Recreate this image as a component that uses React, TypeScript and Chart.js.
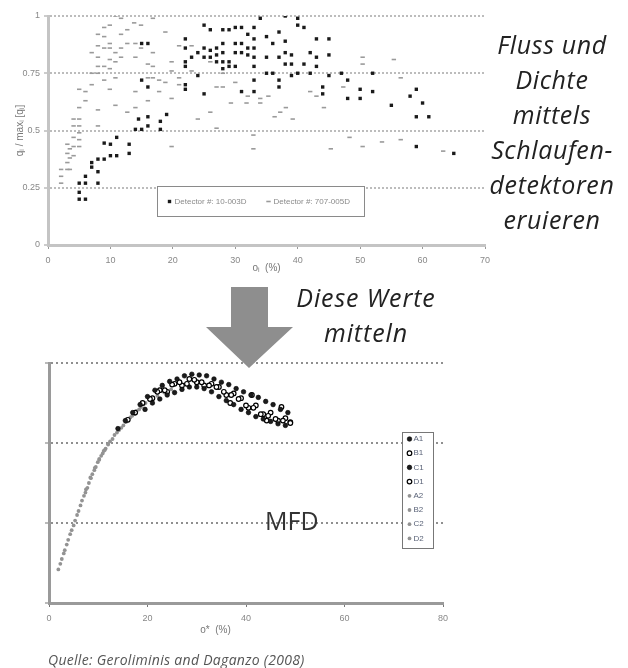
import React, { useEffect, useRef } from "react";
import { Chart, registerables } from "chart.js";

Chart.register(...registerables);

// ---------- Top chart: flow / density per loop detector ----------
const topSeriesLabels = ["Detector #: 10-003D", "Detector #: 707-005D"];
const topYTickLabels = ["0", "0.25", "0.5", "0.75", "1"];

const detector10: [number, number][] = [
  [5, 0.2], [6, 0.2], [5, 0.23], [5, 0.27], [6, 0.27], [6, 0.3], [7, 0.34], [7, 0.36],
  [8, 0.27], [8, 0.32], [8, 0.375], [9, 0.375], [9, 0.445], [10, 0.44], [10, 0.39],
  [11, 0.47], [11, 0.39], [13, 0.44], [13, 0.4], [14, 0.505], [15, 0.505], [16, 0.52],
  [16, 0.56], [18, 0.505], [18, 0.54], [19, 0.57], [14.5, 0.55], [15, 0.88], [16, 0.88],
  [15, 0.72], [16, 0.69], [22, 0.9], [22, 0.86], [22, 0.8], [22, 0.78], [22, 0.7],
  [22, 0.68], [23, 0.82], [24, 0.84], [24, 0.74], [25, 0.96], [26, 0.94], [25, 0.86],
  [25, 0.82], [25, 0.66], [26, 0.85], [26, 0.82], [27, 0.86], [27, 0.83], [27, 0.8],
  [28, 0.94], [28, 0.88], [28, 0.84], [28, 0.8], [28, 0.77], [29, 0.94], [29, 0.8],
  [29, 0.78], [30, 0.95], [30, 0.88], [30, 0.84], [30, 0.78], [31, 0.95], [31, 0.88],
  [31, 0.84], [31, 0.67], [32, 0.92], [32, 0.86], [32, 0.83], [33, 0.95], [33, 0.9],
  [33, 0.86], [33, 0.82], [33, 0.78], [33, 0.72], [33, 0.67], [34, 0.99], [35, 0.91],
  [35, 0.82], [35, 0.75], [36, 0.88], [36, 0.75], [37, 0.93], [37, 0.82], [37, 0.72],
  [37, 0.69], [38, 1.0], [38, 0.89], [38, 0.84], [38, 0.79], [39, 0.83], [39, 0.79],
  [39, 0.74], [40, 0.99], [40, 0.96], [40, 0.75], [41, 0.95], [41, 0.79], [42, 0.84],
  [42, 0.75], [43, 0.9], [43, 0.82], [43, 0.78], [44, 0.69], [44, 0.66], [45, 0.9],
  [45, 0.83], [45, 0.74], [47, 0.75], [48, 0.72], [48, 0.64], [50, 0.68], [50, 0.64],
  [52, 0.67], [52, 0.75], [55, 0.61], [58, 0.65], [59, 0.68], [59, 0.56], [60, 0.62],
  [61, 0.56], [59, 0.43], [65, 0.4],
];

const detector707: [number, number][] = [
  [2.1, 0.33], [2.1, 0.3], [2.1, 0.27], [3.1, 0.44], [3.1, 0.4], [3.1, 0.36], [3.1, 0.33],
  [3.5, 0.42], [3.5, 0.38], [3.5, 0.33], [4.1, 0.47], [4.1, 0.43], [4.1, 0.39], [4.1, 0.55],
  [4.1, 0.52], [5, 0.55], [5, 0.52], [5, 0.49], [5, 0.46], [5, 0.43], [5, 0.68], [5, 0.6],
  [6, 0.67], [6, 0.63], [7, 0.84], [7, 0.75], [7, 0.7], [8, 0.92], [8, 0.87], [8, 0.82],
  [8, 0.78], [8, 0.75], [8, 0.59], [8, 0.52], [9, 0.95], [9, 0.91], [9, 0.86], [9, 0.78],
  [9, 0.72], [9.9, 0.96], [9.9, 0.88], [9.9, 0.86], [9.9, 0.81], [9.9, 0.77], [9.9, 0.68],
  [10.8, 1.0], [10.8, 0.84], [10.8, 0.8], [10.8, 0.73], [10.8, 0.61], [11.7, 0.99],
  [11.7, 0.92], [11.7, 0.86], [11.7, 0.82], [12.7, 0.94], [12.7, 0.88], [12.7, 0.58],
  [13.8, 0.97], [14.9, 0.96], [14, 0.88], [14, 0.82], [14, 0.67], [14, 0.6], [14.9, 0.86],
  [16, 0.79], [16, 0.73], [16, 0.63], [16.8, 0.99], [16.8, 0.84], [16.8, 0.78], [16.8, 0.73],
  [17.8, 0.72], [17.8, 0.67], [18.8, 0.93], [18.8, 0.71], [19.8, 0.8], [19.8, 0.76],
  [19.8, 0.64], [19.8, 0.43], [21, 0.87], [21, 0.73], [21, 0.7], [23, 0.87], [23, 0.76],
  [24, 0.55], [26, 0.8], [26, 0.58], [27, 0.69], [27, 0.51], [28, 0.75], [28, 0.69],
  [29.3, 0.62], [30, 0.71], [32, 0.65], [31.8, 0.62], [32.9, 0.48], [32.9, 0.42], [34, 0.64],
  [34, 0.62], [35.3, 0.65], [36.3, 0.56], [37.2, 0.58], [38.1, 0.6], [39.2, 0.55], [42, 0.67],
  [43, 0.65], [44.2, 0.6], [45.3, 0.42], [47.3, 0.69], [48.3, 0.47], [50.4, 0.82], [50.4, 0.79],
  [50.4, 0.43], [53.5, 0.45], [55.4, 0.81], [56.5, 0.73], [56.5, 0.46], [63.3, 0.41],
];

// ---------- Bottom chart: macroscopic fundamental diagram ----------
const mfdLabels = ["A1", "B1", "C1", "D1", "A2", "B2", "C2", "D2"];

const mfdA1: [number, number][] = [
  [14, 2.18], [15.5, 2.28], [17, 2.38], [18.5, 2.48], [20, 2.58], [21.5, 2.66], [23, 2.72],
  [24.5, 2.77], [26, 2.8], [27.5, 2.84], [29, 2.86], [30.5, 2.85], [32, 2.84], [33.5, 2.8],
  [35, 2.76], [36.5, 2.73], [38, 2.68], [39.5, 2.64], [41, 2.6], [42.5, 2.57], [44, 2.52],
  [45.5, 2.48], [47, 2.42], [48.5, 2.38],
];
const mfdB1: [number, number][] = [
  [16, 2.29], [17.5, 2.38], [19, 2.5], [20.5, 2.55], [22, 2.64], [23.5, 2.66], [25, 2.73],
  [26.5, 2.76], [28, 2.74], [29.5, 2.79], [31, 2.76], [32.5, 2.72], [34, 2.7], [35.5, 2.64],
  [37, 2.6], [38.5, 2.55], [40, 2.47], [41.5, 2.44], [43, 2.36], [44.5, 2.34], [46, 2.3],
  [47.5, 2.28], [49, 2.25],
];
const mfdC1: [number, number][] = [
  [19.5, 2.42], [21, 2.5], [22.5, 2.55], [24, 2.6], [25.5, 2.63], [27, 2.67], [28.5, 2.7],
  [30, 2.7], [31.5, 2.68], [33, 2.64], [34.5, 2.58], [36, 2.53], [37.5, 2.48], [39, 2.42],
  [40.5, 2.38], [42, 2.33], [43.5, 2.3], [45, 2.27], [46.5, 2.24], [48, 2.22],
];
const mfdD1: [number, number][] = [
  [21, 2.56], [22.5, 2.66], [24, 2.64], [25.5, 2.74], [27, 2.72], [28.5, 2.8], [30, 2.76],
  [31.5, 2.72], [33, 2.74], [34.5, 2.7], [36, 2.6], [36.8, 2.5], [37.5, 2.62], [39, 2.56],
  [40.5, 2.44], [41.2, 2.6], [42, 2.47], [43.5, 2.36], [44.2, 2.28], [45, 2.38], [46.5, 2.28],
  [47.2, 2.45], [48, 2.31], [49, 2.26],
];
const mfdA2: [number, number][] = [
  [1.9, 0.42], [2.6, 0.55], [3.2, 0.66], [3.9, 0.79], [4.6, 0.91], [5.3, 1.03], [6.0, 1.15],
  [6.7, 1.28], [7.4, 1.38], [8.1, 1.5], [8.8, 1.61], [9.5, 1.7], [10.2, 1.79], [10.9, 1.87],
];
const mfdB2: [number, number][] = [
  [2.3, 0.49], [3.0, 0.62], [3.6, 0.73], [4.3, 0.86], [5.0, 0.97], [5.7, 1.1], [6.4, 1.22],
  [7.1, 1.34], [7.8, 1.44], [8.5, 1.56], [9.2, 1.66], [9.9, 1.76], [10.6, 1.84], [11.3, 1.91],
  [12.0, 1.98],
];
const mfdC2: [number, number][] = [
  [7.5, 1.42], [8.4, 1.57], [9.3, 1.69], [10.2, 1.8], [11.1, 1.9], [12.0, 1.99], [12.9, 2.05],
  [13.8, 2.13], [14.7, 2.19], [15.6, 2.26], [16.5, 2.32], [17.4, 2.36], [18.3, 2.42],
  [19.2, 2.48],
];
const mfdD2: [number, number][] = [
  [11.5, 1.93], [12.4, 2.02], [13.3, 2.1], [14.2, 2.16], [15.1, 2.22], [16.0, 2.28],
  [16.9, 2.34], [17.8, 2.4], [18.7, 2.45], [19.6, 2.5], [20.8, 2.54], [22.0, 2.59],
  [23.4, 2.63], [24.8, 2.67],
];
const mfdSeries = [mfdA1, mfdB1, mfdC1, mfdD1, mfdA2, mfdB2, mfdC2, mfdD2];

const toXY = (pts: [number, number][]) => pts.map(([x, y]) => ({ x, y }));

// ---------- boxed legend drawn inside the plot area ----------
function drawMarker(ctx: CanvasRenderingContext2D, ds: any, cx: number, cy: number) {
  const r = ds.pointRadius;
  ctx.save();
  if (ds.pointStyle === "line") {
    ctx.strokeStyle = ds.borderColor;
    ctx.lineWidth = ds.borderWidth;
    ctx.beginPath();
    ctx.moveTo(cx - r, cy);
    ctx.lineTo(cx + r, cy);
    ctx.stroke();
  } else if (ds.pointStyle === "rect") {
    const s = r * Math.SQRT1_2;
    ctx.fillStyle = ds.backgroundColor;
    ctx.fillRect(cx - s, cy - s, 2 * s, 2 * s);
  } else {
    ctx.fillStyle = ds.backgroundColor;
    ctx.strokeStyle = ds.borderColor;
    ctx.lineWidth = ds.borderWidth || 0;
    ctx.beginPath();
    ctx.arc(cx, cy, r, 0, Math.PI * 2);
    ctx.fill();
    if (ds.borderWidth) ctx.stroke();
  }
  ctx.restore();
}

const boxLegend = {
  id: "boxLegend",
  afterDraw(chart: any, _args: any, opts: any) {
    if (!opts || !opts.display) return;
    const { ctx, chartArea } = chart;
    const x = Math.round(chartArea.left + opts.left) + 0.5;
    const y = Math.round(chartArea.top + opts.top) + 0.5;
    ctx.save();
    ctx.fillStyle = "#ffffff";
    ctx.fillRect(x, y, opts.width, opts.height);
    ctx.strokeStyle = opts.borderColor;
    ctx.lineWidth = opts.borderWidth;
    ctx.strokeRect(x, y, opts.width, opts.height);
    ctx.font = `${opts.fontSize}px ${opts.fontFamily}`;
    ctx.textBaseline = "middle";
    ctx.textAlign = "left";
    chart.data.datasets.forEach((ds: any, i: number) => {
      let cx: number, cy: number;
      if (opts.direction === "row") {
        cx = x + opts.padX + i * opts.itemSize;
        cy = y + opts.height / 2;
      } else {
        cx = x + opts.padX;
        cy = y + opts.padY + i * opts.itemSize;
      }
      drawMarker(ctx, ds, cx, cy);
      ctx.fillStyle = opts.color;
      ctx.fillText(ds.label, cx + opts.textGap, cy);
    });
    ctx.restore();
  },
};

const FONT = "'Liberation Sans', Arial, sans-serif";

function TopChart() {
  const ref = useRef<HTMLCanvasElement>(null);
  useEffect(() => {
    if (!ref.current) return;
    const chart = new Chart(ref.current, {
      type: "scatter",
      data: {
        datasets: [
          {
            label: topSeriesLabels[0],
            data: toXY(detector10),
            pointStyle: "rect",
            pointRadius: 2.4,
            backgroundColor: "#1a1a1a",
            borderColor: "#1a1a1a",
            borderWidth: 0,
          },
          {
            label: topSeriesLabels[1],
            data: toXY(detector707),
            pointStyle: "line",
            pointRadius: 2.2,
            backgroundColor: "#9a9a9a",
            borderColor: "#9a9a9a",
            borderWidth: 1.6,
          },
        ],
      },
      options: {
        responsive: false,
        animation: false,
        events: [],
        layout: { padding: { left: 0, top: 16, right: 15, bottom: 11 } },
        scales: {
          x: {
            type: "linear",
            min: 0,
            max: 70,
            ticks: { stepSize: 10, color: "#888", font: { size: 9, family: FONT }, padding: 6, maxRotation: 0 },
            grid: { drawOnChartArea: false, drawTicks: true, tickLength: 4, tickColor: "#999", tickWidth: 1 },
            border: { color: "#c4c4c4", width: 3 },
            title: { display: true, text: "oᵢ  (%)", color: "#777", font: { size: 10, family: FONT }, padding: 0 },
            afterFit: (s: any) => { s.height = 29; },
          },
          y: {
            type: "linear",
            min: 0,
            max: 1,
            ticks: {
              stepSize: 0.25,
              color: "#888",
              font: { size: 9, family: FONT },
              padding: 4,
              callback: (_v: any, i: number) => topYTickLabels[i],
            },
            grid: { color: "#bcbcbc", lineWidth: 2, tickLength: 4, tickColor: "#999", tickWidth: 1 },
            border: { color: "#c4c4c4", width: 3, dash: [2, 2] },
            title: { display: true, text: "qᵢ / maxᵢ [qᵢ]", color: "#777", font: { size: 10, family: FONT }, padding: { top: 14, bottom: 0 } },
            afterFit: (s: any) => { s.width = 48; },
          },
        },
        plugins: {
          legend: { display: false },
          tooltip: { enabled: false },
          boxLegend: {
            display: true,
            direction: "row",
            left: 109,
            top: 170,
            width: 207,
            height: 30,
            padX: 12,
            itemSize: 99,
            textGap: 5,
            borderColor: "#8a8a8a",
            borderWidth: 1,
            fontSize: 8,
            fontFamily: FONT,
            color: "#8a8a8a",
          },
        } as any,
      },
      plugins: [boxLegend],
    });
    return () => chart.destroy();
  }, []);
  return (
    <canvas
      ref={ref}
      width={500}
      height={285}
      style={{ position: "absolute", left: 0, top: 0, width: 500, height: 285 }}
    />
  );
}

function BottomChart() {
  const ref = useRef<HTMLCanvasElement>(null);
  useEffect(() => {
    if (!ref.current) return;
    const datasets = mfdSeries.map((pts, i) => {
      const dark = i < 4;
      const open = i === 1 || i === 3;
      return {
        label: mfdLabels[i],
        data: toXY(pts),
        pointStyle: "circle",
        pointRadius: dark ? 2.3 : 1.9,
        backgroundColor: dark ? (open ? "#ffffff" : "#1c1c1c") : "#939393",
        borderColor: dark ? "#000000" : "#939393",
        borderWidth: dark ? (open ? 1.2 : 0.6) : 0,
      };
    });
    const chart = new Chart(ref.current, {
      type: "scatter",
      data: { datasets },
      options: {
        responsive: false,
        animation: false,
        events: [],
        layout: { padding: { left: 0, top: 23, right: 17, bottom: 4 } },
        scales: {
          x: {
            type: "linear",
            min: 0,
            max: 80,
            ticks: { stepSize: 20, color: "#888", font: { size: 9, family: FONT }, padding: 6, maxRotation: 0 },
            grid: { drawOnChartArea: false, drawTicks: true, tickLength: 4, tickColor: "#777", tickWidth: 1 },
            border: { color: "#9a9a9a", width: 3 },
            title: {
              display: true,
              text: "o*  (%)" + "\u00a0".repeat(22),
              color: "#777",
              font: { size: 10, family: FONT },
              padding: 0,
            },
            afterFit: (s: any) => { s.height = 33; },
          },
          y: {
            type: "linear",
            min: 0,
            max: 3,
            ticks: { stepSize: 1, display: false },
            grid: { color: "#8f8f8f", lineWidth: 2, tickLength: 4, tickColor: "#777", tickWidth: 1 },
            border: { color: "#9a9a9a", width: 3, dash: [2, 3] },
            afterFit: (s: any) => { s.width = 49; },
          },
        },
        plugins: {
          legend: { display: false },
          tooltip: { enabled: false },
          boxLegend: {
            display: true,
            direction: "column",
            left: 353,
            top: 69,
            width: 31,
            height: 116,
            padX: 7,
            padY: 6.5,
            itemSize: 14.2,
            textGap: 4,
            borderColor: "#777",
            borderWidth: 1,
            fontSize: 8,
            fontFamily: FONT,
            color: "#5a6378",
          },
        } as any,
      },
      plugins: [boxLegend],
    });
    return () => chart.destroy();
  }, []);
  return (
    <canvas
      ref={ref}
      width={460}
      height={300}
      style={{ position: "absolute", left: 0, top: 340, width: 460, height: 300 }}
    />
  );
}

const captionFont = "'Open Sans', 'Noto Sans', sans-serif";

export default function App() {
  return (
    <div
      style={{
        position: "absolute",
        left: 0,
        top: 0,
        width: 628,
        height: 668,
        background: "#ffffff",
        overflow: "hidden",
      }}
    >
      <TopChart />
      <BottomChart />
      <svg
        width={628}
        height={668}
        style={{ position: "absolute", left: 0, top: 0, pointerEvents: "none" }}
      >
        <polygon
          points="231,287 268,287 268,327 293,327 249,368 206,327 231,327"
          fill="#8e8e8e"
        />
      </svg>
      <div
        style={{
          position: "absolute",
          left: 471,
          top: 27,
          width: 162,
          textAlign: "center",
          fontFamily: captionFont,
          fontStyle: "italic",
          fontSize: 25,
          letterSpacing: 0.6,
          lineHeight: "35px",
          color: "#222",
          whiteSpace: "nowrap",
        }}
      >
        Fluss und
        <br />
        Dichte
        <br />
        mittels
        <br />
        Schlaufen-
        <br />
        detektoren
        <br />
        eruieren
      </div>
      <div
        style={{
          position: "absolute",
          left: 266,
          top: 280,
          width: 200,
          textAlign: "center",
          fontFamily: captionFont,
          fontStyle: "italic",
          fontSize: 25,
          letterSpacing: 0.9,
          lineHeight: "35px",
          color: "#222",
          whiteSpace: "nowrap",
        }}
      >
        Diese Werte
        <br />
        mitteln
      </div>
      <div
        style={{
          position: "absolute",
          left: 265,
          top: 504,
          fontFamily: captionFont,
          fontSize: 25,
          lineHeight: "32px",
          color: "#333",
        }}
      >
        MFD
      </div>
      <div
        style={{
          position: "absolute",
          left: 48,
          top: 651,
          fontFamily: captionFont,
          fontStyle: "italic",
          fontSize: 14,
          lineHeight: "18px",
          color: "#555",
          letterSpacing: 0.3,
          whiteSpace: "nowrap",
        }}
      >
        Quelle: Geroliminis and Daganzo (2008)
      </div>
    </div>
  );
}
